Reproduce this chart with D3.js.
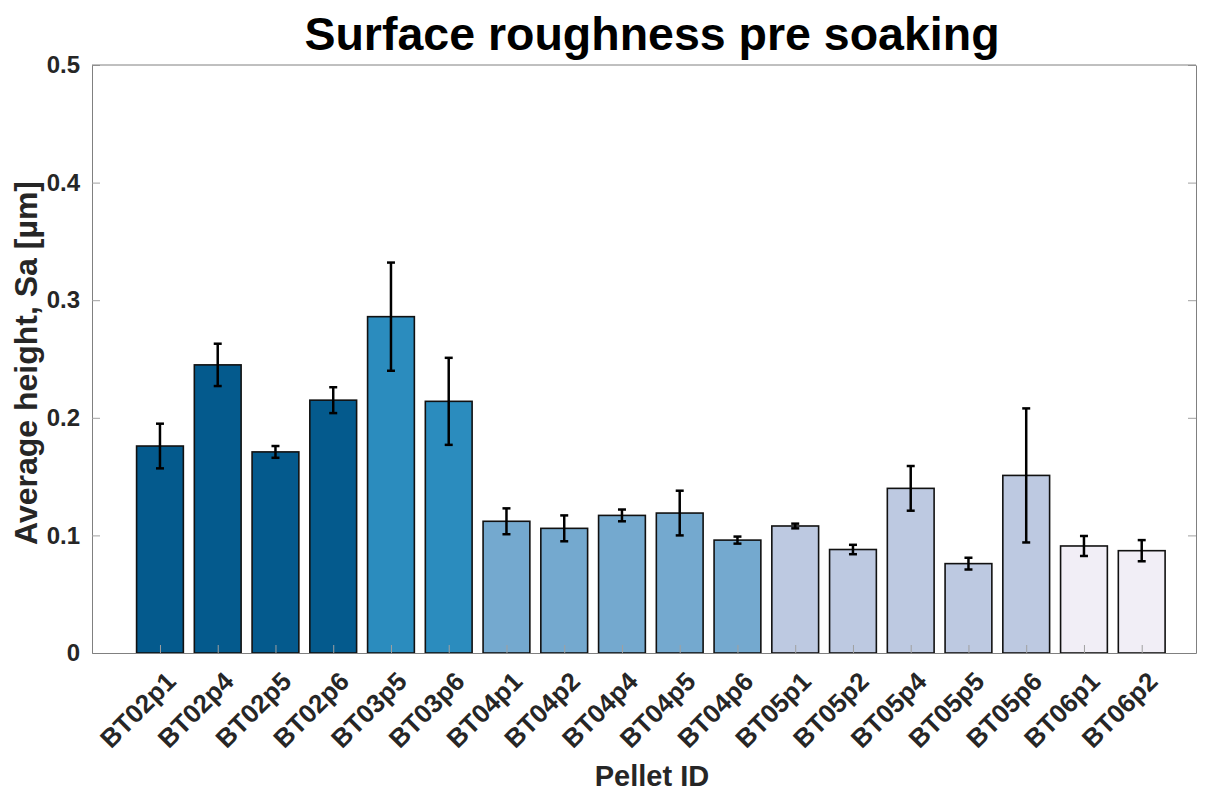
<!DOCTYPE html>
<html lang="en">
<head>
<meta charset="utf-8">
<title>Surface roughness pre soaking</title>
<script src="https://d3js.org/d3.v7.min.js"></script>
<style>
  body { margin: 0; background: #fff; font-family: Arial, "Liberation Sans", Helvetica, sans-serif; }
  text { font-weight: bold; fill: #262626; }
</style>
</head>
<body>
<script>
// pellet ids, mean Sa and std error bars
var pellets = ["BT02p1", "BT02p4", "BT02p5", "BT02p6", "BT03p5", "BT03p6",
  "BT04p1", "BT04p2", "BT04p4", "BT04p5", "BT04p6",
  "BT05p1", "BT05p2", "BT05p4", "BT05p5", "BT05p6", "BT06p1", "BT06p2"];
var sa = [0.176, 0.245, 0.171, 0.215, 0.286, 0.214,
  0.112, 0.106, 0.117, 0.119, 0.096,
  0.108, 0.088, 0.140, 0.076, 0.151, 0.091, 0.087];
var err = [0.019, 0.018, 0.005, 0.011, 0.046, 0.037,
  0.011, 0.011, 0.005, 0.019, 0.003,
  0.002, 0.004, 0.019, 0.005, 0.057, 0.0085, 0.009];
var batches = ["BT02", "BT03", "BT04", "BT05", "BT06"];
var batchColours = ["#045a8d", "#2b8cbe", "#74a9cf", "#bdc9e1", "#f1eef6"];
var yTicks = [0, 0.1, 0.2, 0.3, 0.4, 0.5];

var w = 1206, h = 792;
var padL = 92, padR = 1196, padT = 65, padB = 653;

var colour = d3.scaleOrdinal().domain(batches).range(batchColours);
// matlab-like x axis, categories sit on integer positions
var xScale = d3.scaleLinear().domain([-1.177, 17.94]).range([padL, padR]);
var yScale = d3.scaleLinear().domain([0, 0.5]).range([padB, padT]);
var step = xScale(1) - xScale(0);
var barW = step * 0.81;

var svg = d3.select("body").append("svg")
  .attr("width", w)
  .attr("height", h);

var data = pellets.map(function (p, i) {
  return { id: p, i: i, v: sa[i], e: err[i], batch: p.slice(0, 4) };
});

// bars
svg.selectAll("rect.bar")
  .data(data)
  .enter()
  .append("rect")
  .attr("class", "bar")
  .attr("x", function (d) { return xScale(d.i) - barW / 2; })
  .attr("y", function (d) { return yScale(d.v); })
  .attr("width", barW)
  .attr("height", function (d) { return yScale(0) - yScale(d.v); })
  .attr("fill", function (d) { return colour(d.batch); })
  .attr("stroke", "#111")
  .attr("stroke-width", 1.6);

// error bars
var eb = svg.selectAll("g.err")
  .data(data)
  .enter()
  .append("g")
  .attr("class", "err")
  .attr("stroke", "#000")
  .attr("stroke-width", 2.5);

eb.append("line")
  .attr("x1", function (d) { return xScale(d.i); })
  .attr("x2", function (d) { return xScale(d.i); })
  .attr("y1", function (d) { return yScale(d.v - d.e); })
  .attr("y2", function (d) { return yScale(d.v + d.e); });

[-1, 1].forEach(function (s) {
  eb.append("line")
    .attr("x1", function (d) { return xScale(d.i) - 4; })
    .attr("x2", function (d) { return xScale(d.i) + 4; })
    .attr("y1", function (d) { return yScale(d.v + s * d.e); })
    .attr("y2", function (d) { return yScale(d.v + s * d.e); });
});

// axes box
var yAxis = d3.axisLeft(yScale).tickValues(yTicks).tickFormat(function (d) { return d === 0 ? "0" : d3.format(".1f")(d); })
  .tickSizeInner(-8).tickSizeOuter(0).tickPadding(12);
var yAxisR = d3.axisRight(yScale).tickValues(yTicks).tickFormat("").tickSizeInner(-8).tickSizeOuter(0);
var xAxis = d3.axisBottom(xScale).tickValues(d3.range(pellets.length)).tickFormat(function (i) { return pellets[i]; })
  .tickSizeInner(-8).tickSizeOuter(0);

var gy = svg.append("g").attr("transform", "translate(" + padL + ",0)").call(yAxis);
var gyr = svg.append("g").attr("transform", "translate(" + padR + ",0)").call(yAxisR);
var gx = svg.append("g").attr("transform", "translate(0," + padB + ")").call(xAxis);

svg.append("line")
  .attr("x1", padL).attr("x2", padR).attr("y1", padT).attr("y2", padT)
  .attr("stroke", "#808080");

[gy, gyr, gx].forEach(function (g) {
  g.select(".domain").attr("stroke", "#808080").attr("stroke-width", 1);
  g.selectAll(".tick line").attr("stroke", "#a0a0a0");
});

gy.selectAll(".tick text")
  .style("font-size", "24px")
  .attr("fill", "#262626");

// rotated pellet labels, right end just under the tick
gx.selectAll(".tick text")
  .style("font-size", "26px")
  .attr("fill", "#262626")
  .attr("text-anchor", "end")
  .attr("x", 0)
  .attr("y", 0)
  .attr("dy", 0)
  .attr("transform", "translate(17,30) rotate(-45)");

// titles
svg.append("text")
  .attr("x", 652)
  .attr("y", 50)
  .attr("text-anchor", "middle")
  .style("font-size", "46.5px")
  .style("fill", "#000")
  .text("Surface roughness pre soaking");

svg.append("text")
  .attr("text-anchor", "middle")
  .attr("transform", "translate(37,363) rotate(-90)")
  .style("font-size", "32px")
  .text("Average height, Sa [µm]");

svg.append("text")
  .attr("x", 652)
  .attr("y", 786)
  .attr("text-anchor", "middle")
  .style("font-size", "29px")
  .text("Pellet ID");
</script>
</body>
</html>
